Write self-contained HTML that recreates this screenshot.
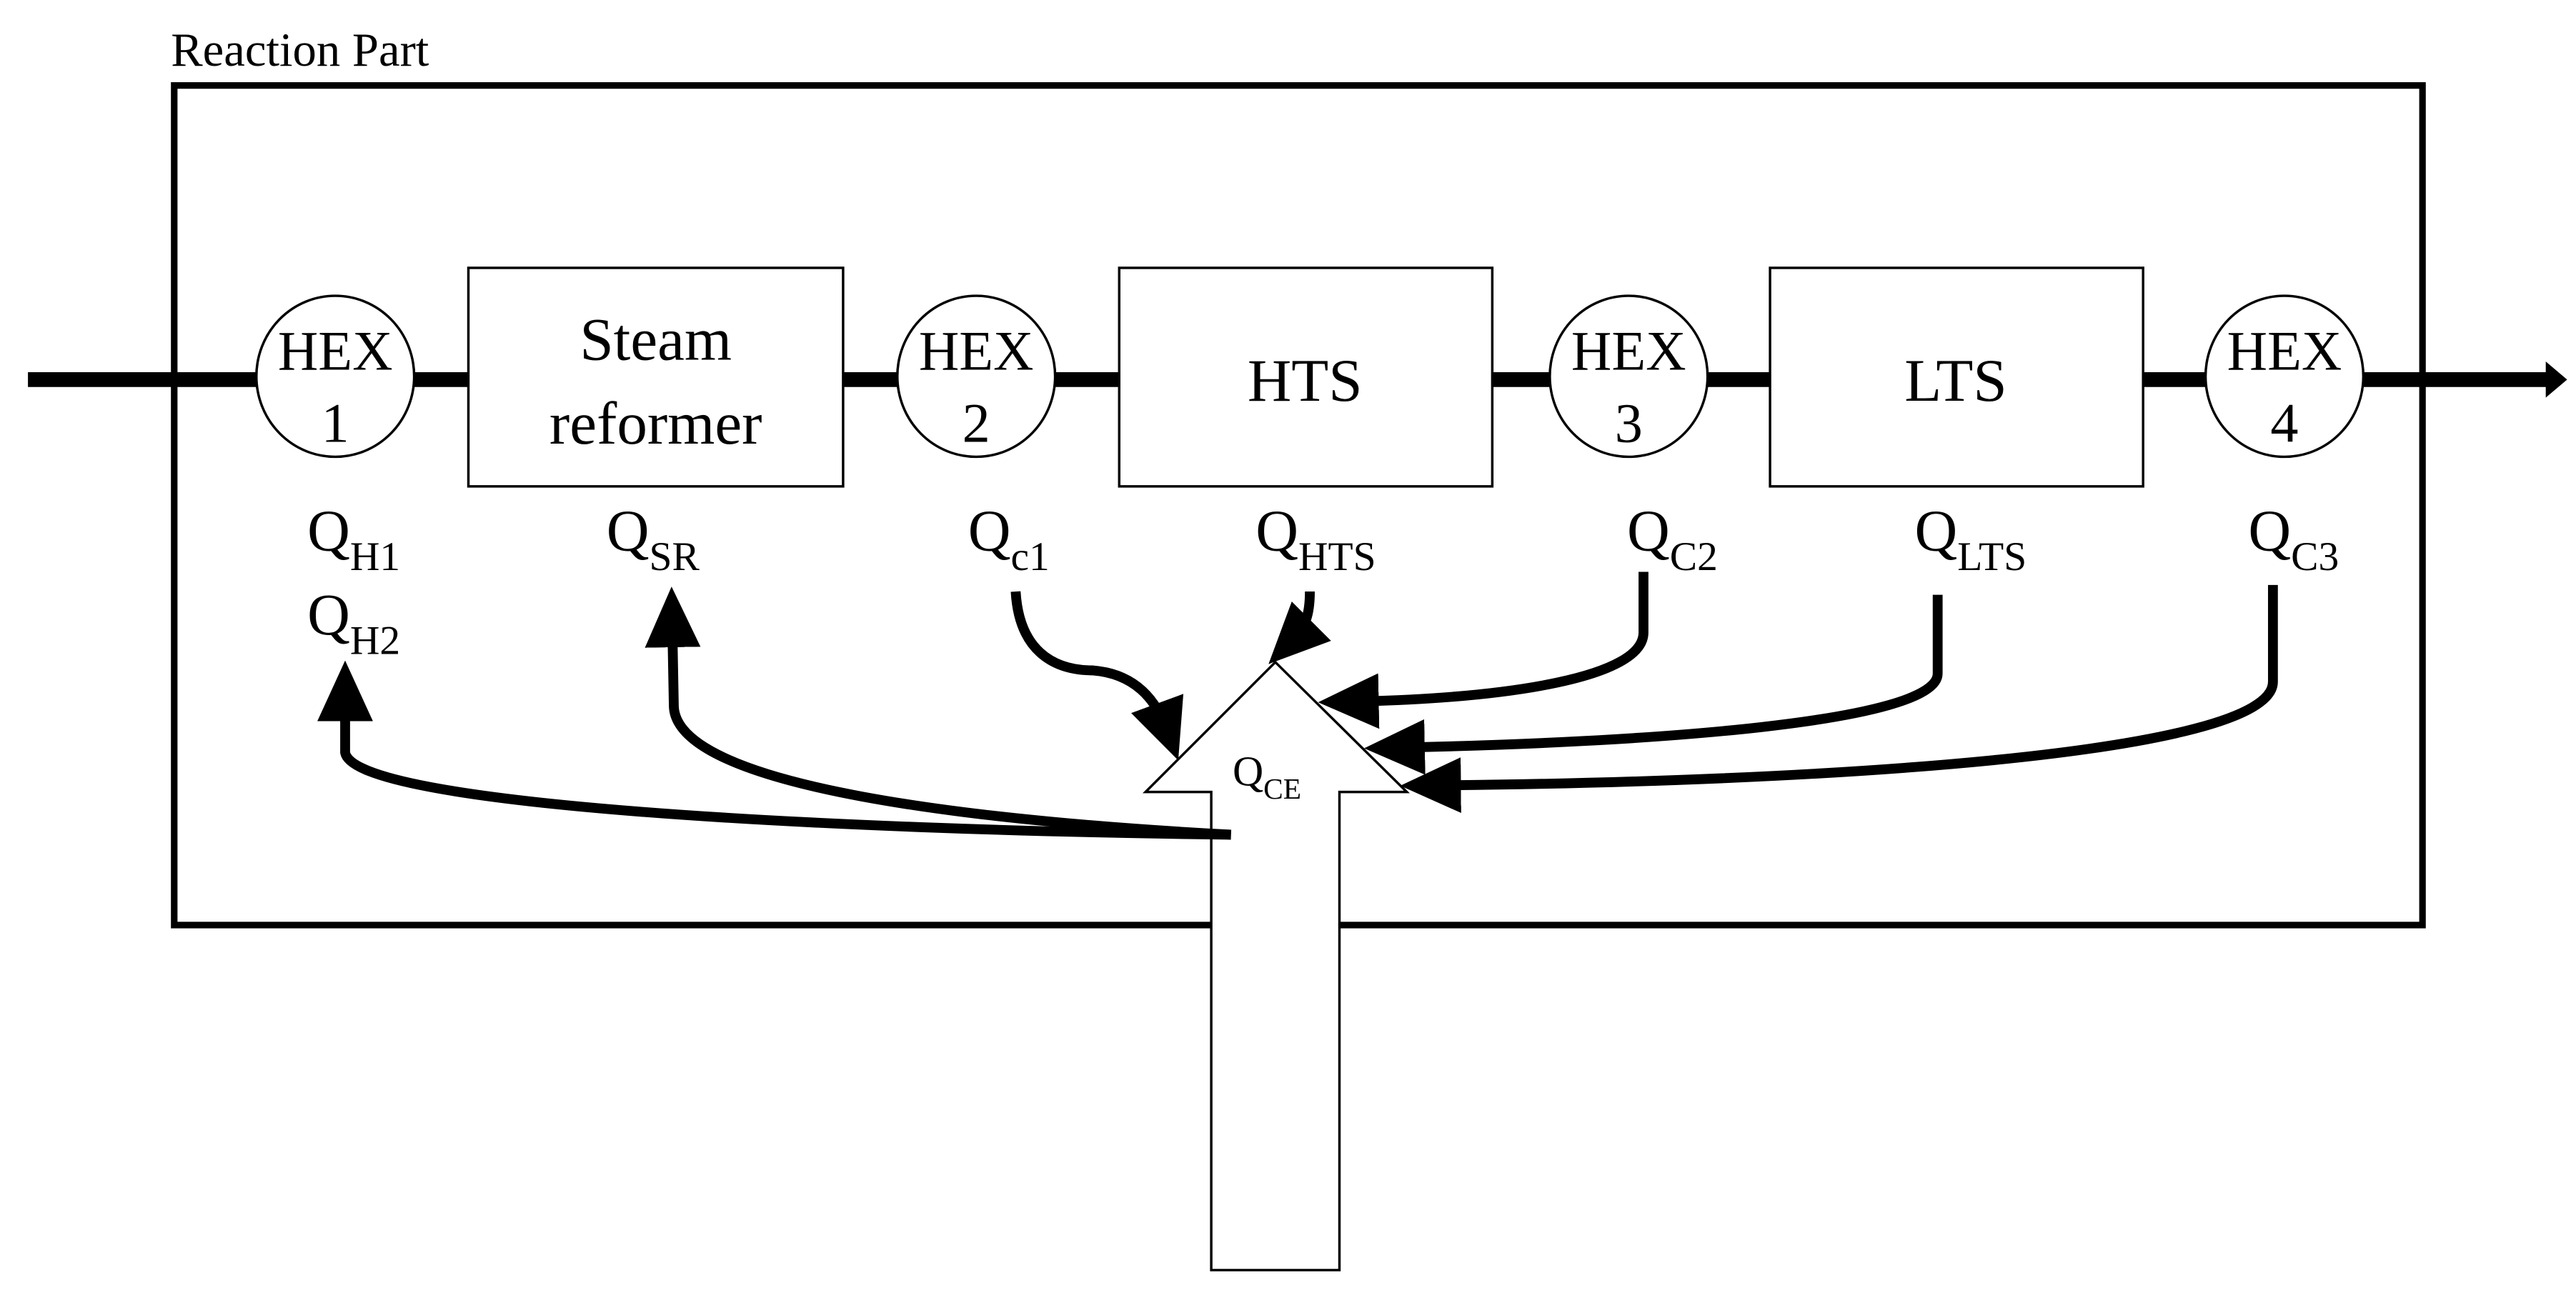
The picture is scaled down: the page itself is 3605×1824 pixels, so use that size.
<!DOCTYPE html>
<html><head><meta charset="utf-8"><style>html,body{margin:0;padding:0;background:#fff}svg{display:block}</style></head>
<body>
<svg xmlns="http://www.w3.org/2000/svg" width="3605" height="1824" viewBox="0 0 1567.4 793" font-family="'Liberation Serif', serif">
<defs>
<marker id="ah" markerUnits="userSpaceOnUse" markerWidth="40" markerHeight="40" viewBox="0 -12 26 24" refX="11" refY="0" orient="auto">
<path d="M0,-11 L24,0 L0,11 Z" fill="#000"/>
</marker>
</defs>
<rect width="1567.4" height="793" fill="#fff"/>
<text x="104" y="40" font-size="29">Reaction Part</text>
<rect x="106" y="52" width="1368" height="511" fill="none" stroke="#000" stroke-width="4"/>
<line x1="17" y1="231" x2="1550" y2="231" stroke="#000" stroke-width="9"/>
<polygon points="1549,220 1562,231 1549,242" fill="#000"/>
<g fill="#fff" stroke="#000" stroke-width="1.5">
<rect x="285" y="163" width="228" height="133"/>
<rect x="681" y="163" width="227" height="133"/>
<rect x="1077" y="163" width="227" height="133"/>
<ellipse cx="204" cy="229" rx="48" ry="49"/>
<ellipse cx="594" cy="229" rx="48" ry="49"/>
<ellipse cx="991" cy="229" rx="48" ry="49"/>
<ellipse cx="1390" cy="229" rx="48" ry="49"/>
</g>
<g font-size="34" text-anchor="middle">
<text x="204" y="225">HEX</text><text x="204" y="269">1</text>
<text x="594" y="225">HEX</text><text x="594" y="269">2</text>
<text x="991" y="225">HEX</text><text x="991" y="269">3</text>
<text x="1390" y="225">HEX</text><text x="1390" y="269">4</text>
</g>
<g font-size="37" text-anchor="middle">
<text x="399" y="219">Steam</text><text x="399" y="270">reformer</text>
<text x="794" y="244">HTS</text>
<text x="1190" y="244">LTS</text>
</g>
<g font-size="36">
<text x="187" y="335">Q<tspan font-size="25" dy="12">H1</tspan></text>
<text x="187" y="386">Q<tspan font-size="25" dy="12">H2</tspan></text>
<text x="369" y="335">Q<tspan font-size="25" dy="12">SR</tspan></text>
<text x="589" y="335">Q<tspan font-size="25" dy="12">c1</tspan></text>
<text x="764" y="335">Q<tspan font-size="25" dy="12">HTS</tspan></text>
<text x="990" y="335">Q<tspan font-size="25" dy="12">C2</tspan></text>
<text x="1165" y="335">Q<tspan font-size="25" dy="12">LTS</tspan></text>
<text x="1368" y="335">Q<tspan font-size="25" dy="12">C3</tspan></text>
</g>
<polygon points="776,403 856,482 815,482 815,773 737,773 737,482 697,482" fill="#fff" stroke="#000" stroke-width="1.5"/>
<text x="750" y="478" font-size="26">Q<tspan font-size="18" dy="8">CE</tspan></text>
<g fill="none" stroke="#000" stroke-width="6" marker-end="url(#ah)">
<path d="M749,508 C500,505 215,490 210,458 L210,422"/>
<path d="M749,508 C600,500 412,480 410,430 L409,377"/>
<path d="M618,360 C620,395 640,408 665,408 C690,410 703,425 710,444"/>
<path d="M797,360 C797,375 794,382 786,390"/>
<path d="M1000,348 L1000,385 C1000,412 920,425 822,427"/>
<path d="M1179,362 L1179,410 C1179,440 1000,452 850,455"/>
<path d="M1383,356 L1383,415 C1383,460 1100,476 872,478"/>
</g>
</svg>
</body></html>
